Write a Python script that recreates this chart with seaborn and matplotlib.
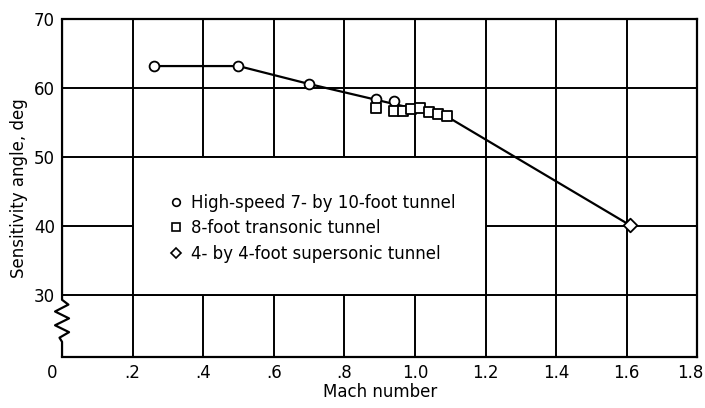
"""
Sensitivity angle against Mach number, three wind tunnels
"""

import matplotlib
matplotlib.use('Agg')
import matplotlib.pyplot as plt
import matplotlib.transforms as mtransforms
from matplotlib.patches import Rectangle
from matplotlib.lines import Line2D
import seaborn as sns
import pandas as pd

# Values
circle_mach = [0.26, 0.50, 0.70, 0.89, 0.94]
circle_angle = [63.2, 63.2, 60.6, 58.4, 58.1]

square_mach = [0.89, 0.94, 0.965, 0.99, 1.015, 1.04, 1.065, 1.09]
square_angle = [57.1, 56.7, 56.7, 56.9, 57.1, 56.5, 56.2, 55.9]

diamond_mach = [1.61]
diamond_angle = [40.1]

# faired curve through the data
fair_mach = [0.26, 0.50, 0.70, 1.09, 1.61]
fair_angle = [63.2, 63.2, 60.6, 55.9, 40.1]

legend_labels = ['High-speed 7- by 10-foot tunnel',
                 '8-foot transonic tunnel',
                 '4- by 4-foot supersonic tunnel']

x_ticks = [0, 0.2, 0.4, 0.6, 0.8, 1.0, 1.2, 1.4, 1.6, 1.8]
x_tick_labels = ['0', '.2', '.4', '.6', '.8', '1.0', '1.2', '1.4', '1.6', '1.8']
y_ticks = [30, 40, 50, 60, 70]
y_tick_labels = ['30', '40', '50', '60', '70']

sns.set_style('white')
plt.rcParams['font.family'] = ['DejaVu Sans']
plt.rcParams['text.color'] = 'black'
plt.rcParams['axes.labelcolor'] = 'black'
plt.rcParams['xtick.color'] = 'black'
plt.rcParams['ytick.color'] = 'black'

fig = plt.figure(figsize=(7.05, 4.08), dpi=100)
ax = fig.add_axes([0.088, 0.125, 0.901, 0.828])

ax.set_xlim(0, 1.8)
ax.set_ylim(21, 70)

# grid
for xv in x_ticks[1:-1]:
    ax.axvline(xv, color='black', lw=1.4, zorder=0.5)
for yv in y_ticks[:-1]:
    ax.axhline(yv, color='black', lw=1.4, zorder=0.5)

# blank panel where the key sits
ax.add_patch(Rectangle((0.2, 30), 1.0, 20, facecolor='white',
                       edgecolor='black', lw=1.4, zorder=0.8))

fair = pd.DataFrame({'mach': fair_mach, 'angle': fair_angle})
sns.lineplot(data=fair, x='mach', y='angle', ax=ax, color='black',
             lw=1.6, sort=False, estimator=None, zorder=2)

mk = dict(facecolor='white', edgecolor='black', linewidth=1.3, zorder=3, legend=False)
sns.scatterplot(x=circle_mach, y=circle_angle, marker='o', s=50, ax=ax, **mk)
sns.scatterplot(x=square_mach, y=square_angle, marker='s', s=50, ax=ax, **mk)
sns.scatterplot(x=diamond_mach, y=diamond_angle, marker='D', s=48, ax=ax, **mk)

handles = [Line2D([], [], ls='none', marker=m, ms=ms, mfc='white', mec='black', mew=1.2)
           for m, ms in zip(['o', 's', 'D'], [5.5, 5.5, 5])]
ax.legend(handles, legend_labels, loc='center left',
          bbox_to_anchor=(0.28, 39.7), bbox_transform=ax.transData,
          frameon=False, fontsize=12, handlelength=0.8, handletextpad=0.5,
          labelspacing=0.45, borderpad=0)

# frame, with a break in the left edge
for side in ['top', 'right', 'bottom']:
    ax.spines[side].set_color('black')
    ax.spines[side].set_linewidth(1.6)
ax.spines['left'].set_visible(False)
yt = ax.get_yaxis_transform()
brk_x = [0, 0, 0.01, -0.011, 0.011, -0.011, 0.011, -0.004, 0, 0]
brk_y = [70, 29.3, 28.6, 27.6, 26.6, 25.6, 24.6, 23.8, 23.2, 21]
ax.plot(brk_x, brk_y, color='black', lw=1.6, transform=yt, clip_on=False, zorder=4)

ax.set_xticks(x_ticks)
ax.set_xticklabels(x_tick_labels, fontsize=12)
ax.set_yticks(y_ticks)
ax.set_yticklabels(y_tick_labels, fontsize=12)
ax.tick_params(length=0, pad=5)
# first and last x labels sit a little off their gridlines, as in the original
xlabels = ax.get_xticklabels()
xlabels[0].set_transform(xlabels[0].get_transform()
                         + mtransforms.ScaledTranslation(-10 / 100, 0, fig.dpi_scale_trans))
xlabels[-1].set_ha('right')
xlabels[-1].set_transform(xlabels[-1].get_transform()
                          + mtransforms.ScaledTranslation(6 / 100, 0, fig.dpi_scale_trans))
ax.set_xlabel('Mach number', fontsize=12, labelpad=1)
ax.set_ylabel('Sensitivity angle, deg', fontsize=12, labelpad=4)

fig.savefig('out.png', dpi=100)
